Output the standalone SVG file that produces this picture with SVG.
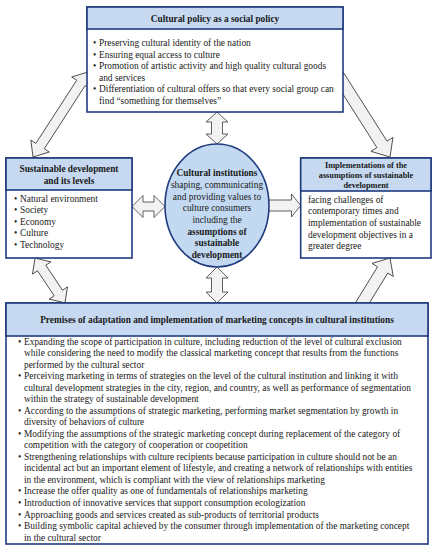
<svg xmlns="http://www.w3.org/2000/svg" width="433" height="550" viewBox="0 0 433 550">
<style>
.box{fill:#ffffff;stroke:#1f3a7d;stroke-width:1.6}
.hdr{fill:#c6d9f1;stroke:#1f3a7d;stroke-width:1.6}
.arr{fill:#f2f2f2;stroke:#3a3a3a;stroke-width:0.8;stroke-linejoin:miter}
text{font-family:"Liberation Serif","Times New Roman",serif;fill:#1a1a1a}
.t{font-size:9.4px}
.b{font-size:9.3px;font-weight:bold}
.bs{font-size:8.3px;font-weight:bold}
.c{text-anchor:middle}
</style>
<rect width="433" height="550" fill="#ffffff"/>
<g id="connectors">
<!-- top vertical double arrow -->
<polygon class="arr" transform="translate(217,128) rotate(90)" points="-16,0 -6,-11 -6,-5.5 6,-5.5 6,-11 16,0 6,11 6,5.5 -6,5.5 -6,11"/>
<!-- bottom vertical double arrow -->
<polygon class="arr" transform="translate(217,285) rotate(90)" points="-18,0 -7,-11 -7,-5.5 7,-5.5 7,-11 18,0 7,11 7,5.5 -7,5.5 -7,11"/>
<!-- left horizontal double arrow -->
<polygon class="arr" transform="translate(148.5,206.5)" points="-16.5,0 -5.5,-11 -5.5,-4.5 5.5,-4.5 5.5,-11 16.5,0 5.5,11 5.5,4.5 -5.5,4.5 -5.5,11"/>
<!-- right single arrow -->
<polygon class="arr" transform="translate(281,205.5)" points="-20,-5.5 10.5,-5.5 10.5,-11.5 19.7,0 10.5,11.5 10.5,5.5 -20,5.5"/>
<!-- top-left diagonal double arrow -->
<polygon class="arr" transform="translate(60.5,114.5) rotate(-57.1)" points="-50.6,0 -37.6,-11 -37.6,-5 37.6,-5 37.6,-11 50.6,0 37.6,11 37.6,5 -37.6,5 -37.6,11"/>
<!-- top-right diagonal single arrow -->
<polygon class="arr" transform="translate(363,114.5) rotate(57.6)" points="-50.4,-6 35.4,-6 35.4,-13 50.4,0 35.4,13 35.4,6 -50.4,6"/>
<!-- bottom-left diagonal double arrow -->
<polygon class="arr" transform="translate(50,280.5) rotate(56.3)" points="-27,0 -15,-11 -15,-5 15,-5 15,-11 27,0 15,11 15,5 -15,5 -15,11"/>
<!-- bottom-right diagonal single arrow -->
<polygon class="arr" transform="translate(374,284) rotate(-58.4)" points="-30.5,-6 16.5,-6 16.5,-12.5 30.5,0 16.5,12.5 16.5,6 -30.5,6"/>
</g>
<g id="node-cultural-policy">
<rect class="box" x="87" y="7" width="256" height="105"/>
<rect class="hdr" x="87" y="7" width="256" height="22"/>
<text class="b c" x="215" y="22">Cultural policy as a social policy</text>
<text class="t" x="93" y="46">•</text><text class="t" x="99" y="46">Preserving cultural identity of the nation</text>
<text class="t" x="93" y="57.5">•</text><text class="t" x="99" y="57.5">Ensuring equal access to culture</text>
<text class="t" x="93" y="69">•</text><text class="t" x="99" y="69">Promotion of artistic activity and high quality cultural goods</text>
<text class="t" x="99" y="80.7">and services</text>
<text class="t" x="93" y="92.4">•</text><text class="t" x="99" y="92.4">Differentiation of cultural offers so that every social group can</text>
<text class="t" x="99" y="104">find “something for themselves”</text>
</g>
<g id="node-sustainable-development">
<rect class="box" x="6" y="158" width="126" height="100"/>
<rect class="hdr" x="6" y="158" width="126" height="32"/>
<text class="b c" x="69" y="171.5">Sustainable development</text>
<text class="b c" x="69" y="183.5">and its levels</text>
<text class="t" x="14" y="201.5">•</text><text class="t" x="20" y="201.5">Natural environment</text>
<text class="t" x="14" y="213">•</text><text class="t" x="20" y="213">Society</text>
<text class="t" x="14" y="224.6">•</text><text class="t" x="20" y="224.6">Economy</text>
<text class="t" x="14" y="236.2">•</text><text class="t" x="20" y="236.2">Culture</text>
<text class="t" x="14" y="247.8">•</text><text class="t" x="20" y="247.8">Technology</text>
</g>
<g id="node-cultural-institutions">
<ellipse cx="217" cy="205.5" rx="52" ry="61.5" fill="#c2d9f1" stroke="#1f3a7d" stroke-width="1.6"/>
<text class="b c" x="217" y="176">Cultural institutions</text>
<text class="t c" x="217" y="188">shaping, communicating</text>
<text class="t c" x="217" y="199.7">and providing values to</text>
<text class="t c" x="217" y="211.4">culture consumers</text>
<text class="t c" x="217" y="223">including the</text>
<text class="b c" x="217" y="234.7">assumptions of</text>
<text class="b c" x="217" y="246.4">sustainable</text>
<text class="b c" x="217" y="258">development</text>
</g>
<g id="node-implementations">
<rect class="box" x="300.7" y="158" width="130.3" height="100"/>
<rect class="hdr" x="300.7" y="158" width="130.3" height="33"/>
<text class="bs c" x="366" y="167.5">Implementations of the</text>
<text class="bs c" x="366" y="177.5">assumptions of sustainable</text>
<text class="bs c" x="366" y="187.5">development</text>
<text class="t" x="308" y="202.5">facing challenges of</text>
<text class="t" x="308" y="214.2">contemporary times and</text>
<text class="t" x="308" y="225.9">implementation of sustainable</text>
<text class="t" x="308" y="237.6">development objectives in a</text>
<text class="t" x="308" y="249.3">greater degree</text>
</g>
<g id="node-premises">
<rect class="box" x="6" y="303" width="422" height="241"/>
<rect class="hdr" x="6" y="303" width="422" height="33"/>
<text class="b c" x="217" y="322.5">Premises of adaptation and implementation of marketing concepts in cultural institutions</text>
<text class="t" x="18" y="344.5">•</text><text class="t" x="24" y="344.5">Expanding the scope of participation in culture, including reduction of the level of cultural exclusion</text>
<text class="t" x="24" y="356">while considering the need to modify the classical marketing concept that results from the functions</text>
<text class="t" x="24" y="367.6">performed by the cultural sector</text>
<text class="t" x="18" y="379.1">•</text><text class="t" x="24" y="379.1">Perceiving marketing in terms of strategies on the level of the cultural institution and linking it with</text>
<text class="t" x="24" y="390.6">cultural development strategies in the city, region, and country, as well as performance of segmentation</text>
<text class="t" x="24" y="402.2">within the strategy of sustainable development</text>
<text class="t" x="18" y="413.7">•</text><text class="t" x="24" y="413.7">According to the assumptions of strategic marketing, performing market segmentation by growth in</text>
<text class="t" x="24" y="425.2">diversity of behaviors of culture</text>
<text class="t" x="18" y="436.7">•</text><text class="t" x="24" y="436.7">Modifying the assumptions of the strategic marketing concept during replacement of the category of</text>
<text class="t" x="24" y="448.3">competition with the category of cooperation or coopetition</text>
<text class="t" x="18" y="459.8">•</text><text class="t" x="24" y="459.8">Strengthening relationships with culture recipients because participation in culture should not be an</text>
<text class="t" x="24" y="471.3">incidental act but an important element of lifestyle, and creating a network of relationships with entities</text>
<text class="t" x="24" y="482.9">in the environment, which is compliant with the view of relationships marketing</text>
<text class="t" x="18" y="494.4">•</text><text class="t" x="24" y="494.4">Increase the offer quality as one of fundamentals of relationships marketing</text>
<text class="t" x="18" y="505.9">•</text><text class="t" x="24" y="505.9">Introduction of innovative services that support consumption ecologization</text>
<text class="t" x="18" y="517.5">•</text><text class="t" x="24" y="517.5">Approaching goods and services created as sub-products of territorial products</text>
<text class="t" x="18" y="529">•</text><text class="t" x="24" y="529">Building symbolic capital achieved by the consumer through implementation of the marketing concept</text>
<text class="t" x="24" y="540.5">in the cultural sector</text>
</g>
</svg>
